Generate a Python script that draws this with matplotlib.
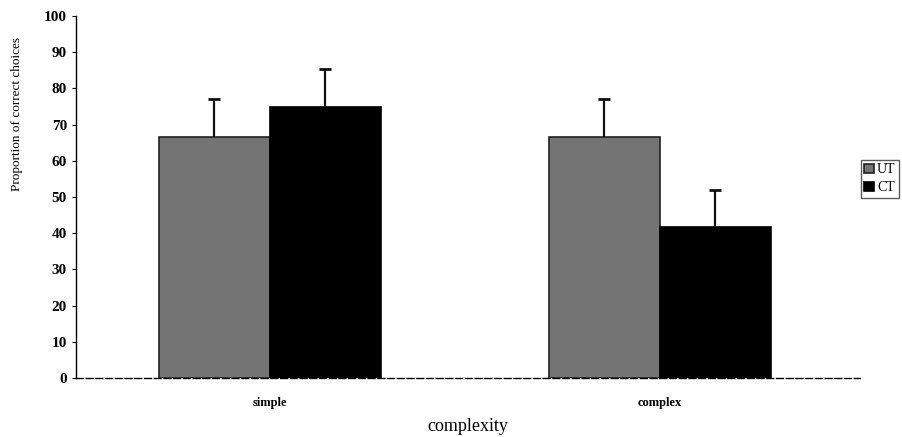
import matplotlib
matplotlib.use("Agg")
import matplotlib.pyplot as plt
import numpy as np

categories = ["simple", "complex"]
ut_values = [66.7, 66.7]
ct_values = [75.0, 41.7]
ut_err = [10.3, 10.3]
ct_err = [10.3, 10.3]
yticks = [0, 10, 20, 30, 40, 50, 60, 70, 80, 90, 100]

plt.rcParams['font.family'] = ['Liberation Serif', 'DejaVu Serif']

fig = plt.figure(figsize=(9.03, 4.37), dpi=100)
ax = fig.add_axes([76/903, 1-378/437, (860-76)/903, (378-16)/437])

x = np.arange(len(categories))
w = 0.285
ekw = dict(ecolor='#111111', elinewidth=1.6, capsize=4, capthick=2)
b1 = ax.bar(x - w/2, ut_values, w, color='#747474', edgecolor='#222222', linewidth=1.2, label='UT',
            yerr=[[0]*len(ut_err), ut_err], error_kw=ekw, zorder=3)
b2 = ax.bar(x + w/2, ct_values, w, color='#000000', edgecolor='#000000', linewidth=1.2, label='CT',
            yerr=[[0]*len(ct_err), ct_err], error_kw=ekw, zorder=3)
for b in (b1, b2):
    caps = b.errorbar.lines[1]
    if len(caps) >= 1:
        caps[0].set_visible(False)

ax.set_xlim(-0.497, 1.513)
ax.set_ylim(0, 100)
ax.set_yticks(yticks)
ax.set_yticklabels([str(t) for t in yticks], fontsize=11, fontweight='bold')
ax.set_xticks(x)
ax.set_xticklabels(categories, fontsize=9, fontweight='bold')
ax.tick_params(axis='x', length=0, pad=14)
ax.tick_params(axis='y', length=3, width=0.8, direction='out')
ax.spines['top'].set_visible(False)
ax.spines['right'].set_visible(False)
ax.spines['left'].set_linestyle((0, (6, 1)))
ax.spines['bottom'].set_linestyle((0, (5, 2)))
ax.spines['left'].set_linewidth(1.0)
ax.spines['bottom'].set_linewidth(1.0)
ax.set_xlabel("complexity", fontsize=13, labelpad=6)
ax.set_ylabel("Proportion of correct choices", fontsize=9.5)
ax.yaxis.set_label_coords(-0.068, 0.73)

fig.legend(loc='upper left', bbox_to_anchor=(861/903, 1-160/437), fontsize=10,
           frameon=True, fancybox=False, edgecolor='#333333', handlelength=0.7,
           handleheight=0.7, borderpad=0.25, labelspacing=0.35, handletextpad=0.2,
           borderaxespad=0)

fig.savefig("out.png", dpi=100)
